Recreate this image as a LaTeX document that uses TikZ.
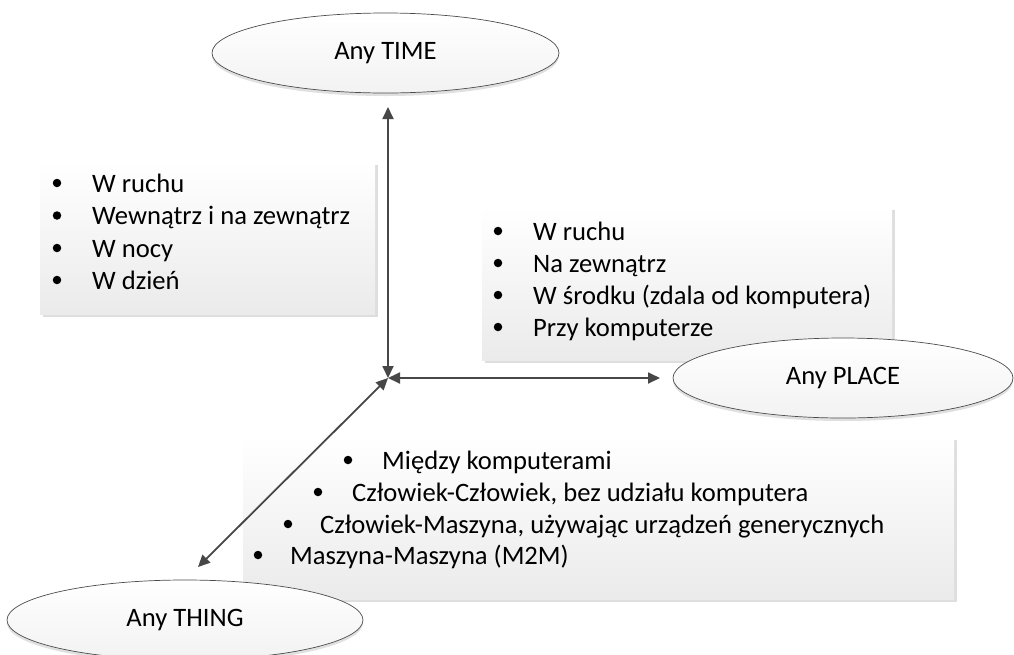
\documentclass[tikz,border=0pt]{standalone}
\usepackage{fontspec}
\setmainfont{Carlito}
\usetikzlibrary{arrows.meta,shapes.geometric,shadows}
\newcommand{\bodyfont}{\fontsize{26.6}{32}\selectfont}
\tikzset{
  oval/.style={ellipse, draw=black!70, line width=0.7pt, top color=white, bottom color=black!5,
    inner sep=0pt, minimum height=80pt, font=\bodyfont,
    drop shadow={shadow xshift=0pt, shadow yshift=-3pt, fill=black!12, opacity=1}},
  panel/.style={draw=none, inner sep=0pt, top color=white, bottom color=black!8,
    drop shadow={shadow xshift=3pt, shadow yshift=-3pt, fill=black!13, opacity=1}},
  conn/.style={draw=black!72, line width=1.8pt,
    {Triangle[length=12pt,width=11pt]}-{Triangle[length=12pt,width=11pt]}},
  bul/.style={circle, fill=black, inner sep=0pt, minimum size=8.5pt},
  itm/.style={anchor=base west, inner sep=0pt, font=\bodyfont}
}
\begin{document}
\begin{tikzpicture}[x=1pt,y=-1pt]
\useasboundingbox (0,0) rectangle (1014,654);
\fill[white] (0,0) rectangle (1014,654);

% panels
\node[panel, minimum width=335pt, minimum height=152pt] (pT) at (207.5,238) {};
\node[panel, minimum width=410pt, minimum height=153pt] (pP) at (687,283.5) {};
\node[panel, minimum width=711pt, minimum height=162pt] (pH) at (598.5,518) {};

% left list
\foreach \y/\t [count=\i] in {192/W ruchu, 224.5/Wewnątrz i na zewnątrz, 257/W nocy, 289/W dzień}{
  \node[bul] (tb\i) at (57,\y-9) {};
  \node[itm] (tt\i) at (92,\y) {\t};
}
% right list
\foreach \y/\t [count=\i] in {240/W ruchu, 272/Na zewnątrz, 304/W środku (zdala od komputera), 336/Przy komputerze}{
  \node[bul] (pb\i) at (498,\y-9) {};
  \node[itm] (pt\i) at (533,\y) {\t};
}
% bottom list
\node[bul] (hb1) at (348,460) {};
\node[itm] (ht1) at (382,469) {Między komputerami};
\node[bul] (hb2) at (318,492) {};
\node[itm] (ht2) at (352,501) {Człowiek-Człowiek, bez udziału komputera};
\node[bul] (hb3) at (288,524) {};
\node[itm] (ht3) at (320,533) {Człowiek-Maszyna, używając urządzeń generycznych};
\node[bul] (hb4) at (258,555) {};
\node[itm] (ht4) at (290,564) {Maszyna-Maszyna (M2M)};

% ellipses
\node[oval, minimum width=347pt] (time) at (385.5,53) {Any TIME};
\node[oval, minimum width=340pt] (place) at (843,378) {Any PLACE};
\node[oval, minimum width=356pt] (thing) at (185,620) {Any THING};

% connectors
\coordinate (c) at (388,378);
\coordinate (eT) at (388,107);
\coordinate (eP) at (660,378);
\coordinate (eH) at (198,567);
\draw[conn] (c) -- (eT);
\draw[conn] (c) -- (eP);
\draw[conn] (c) -- (eH);
\end{tikzpicture}
\end{document}
